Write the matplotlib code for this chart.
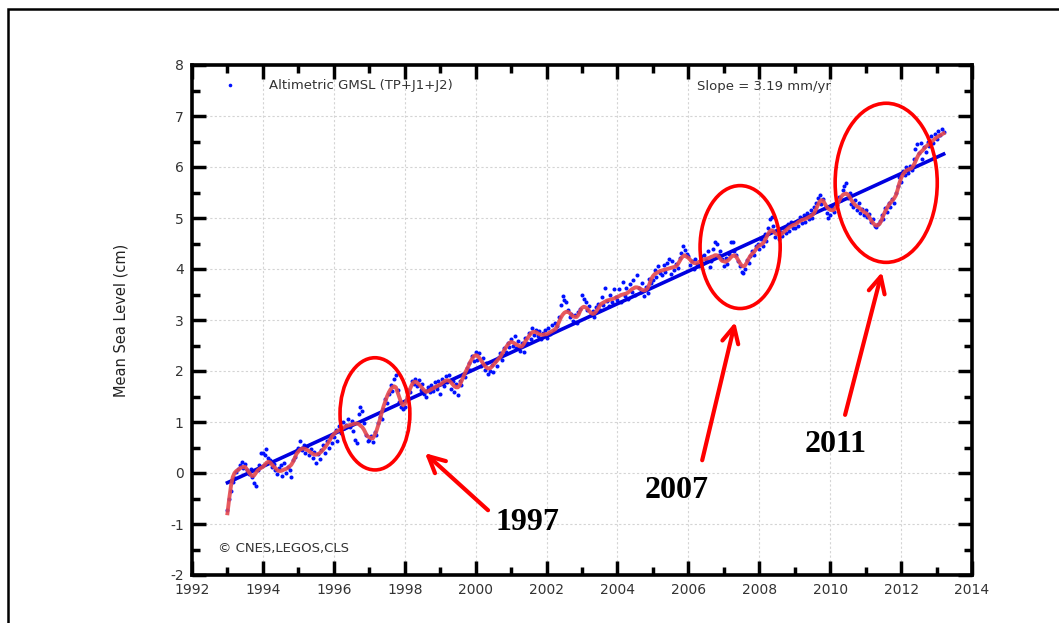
import numpy as np
import matplotlib.pyplot as plt
from matplotlib.patches import Ellipse, Rectangle
from matplotlib.lines import Line2D
from matplotlib.ticker import MultipleLocator

plt.rcParams['axes.unicode_minus'] = False

# 10-day GMSL samples, every 0.05 yr from 1993.0 (cm)
gmsl_dots = [
    -0.72, -0.50, -0.35, -0.18, -0.10, 0.02, 0.08, 0.15, 0.22, 0.10, 0.18, 0.05, -0.02, 0.08, -0.08, -0.20, -0.25, 0.05, 0.15, 0.40,
    0.40, 0.35, 0.48, 0.30, 0.25, 0.12, 0.18, 0.05, -0.02, 0.10, 0.15, -0.05, 0.20, 0.00, 0.12, 0.05, -0.08, 0.25, 0.32, 0.45,
    0.50, 0.62, 0.45, 0.55, 0.40, 0.52, 0.35, 0.48, 0.30, 0.42, 0.20, 0.38, 0.28, 0.45, 0.55, 0.40, 0.62, 0.50, 0.70, 0.58,
    0.70, 0.85, 0.62, 0.92, 0.78, 1.00, 0.88, 0.95, 1.05, 0.90, 1.02, 0.82, 0.65, 0.58, 1.15, 1.30, 1.22, 0.98, 0.75, 0.62,
    0.65, 0.72, 0.60, 0.80, 0.75, 0.98, 1.10, 1.05, 1.25, 1.45, 1.38, 1.55, 1.72, 1.60, 1.85, 1.92, 1.62, 1.40, 1.30, 1.25,
    1.30, 1.45, 1.62, 1.58, 1.80, 1.75, 1.85, 1.70, 1.82, 1.62, 1.75, 1.55, 1.50, 1.68, 1.58, 1.72, 1.60, 1.78, 1.65, 1.80,
    1.55, 1.85, 1.70, 1.90, 1.78, 1.92, 1.65, 1.80, 1.58, 1.75, 1.52, 1.80, 1.72, 1.95, 1.88, 2.05, 2.15, 2.02, 2.30, 2.20,
    2.38, 2.22, 2.35, 2.10, 2.25, 2.02, 2.15, 1.95, 2.00, 2.12, 1.98, 2.20, 2.10, 2.28, 2.35, 2.22, 2.45, 2.38, 2.55, 2.48,
    2.62, 2.50, 2.68, 2.45, 2.58, 2.40, 2.55, 2.38, 2.65, 2.55, 2.75, 2.62, 2.85, 2.70, 2.80, 2.68, 2.78, 2.62, 2.75, 2.80,
    2.65, 2.85, 2.72, 2.90, 2.78, 2.95, 2.88, 3.05, 3.30, 3.48, 3.40, 3.35, 3.20, 3.05, 3.12, 2.98, 3.10, 2.95, 3.15, 3.22,
    3.50, 3.42, 3.35, 3.20, 3.28, 3.10, 3.18, 3.05, 3.25, 3.32, 3.20, 3.45, 3.30, 3.62, 3.38, 3.28, 3.50, 3.35, 3.60, 3.45,
    3.40, 3.60, 3.35, 3.75, 3.48, 3.62, 3.42, 3.70, 3.55, 3.78, 3.50, 3.88, 3.62, 3.55, 3.72, 3.48, 3.65, 3.52, 3.80, 3.72,
    3.78, 3.98, 3.85, 4.05, 3.92, 3.88, 4.08, 3.95, 4.12, 4.20, 3.90, 4.15, 3.98, 4.10, 4.02, 4.22, 4.32, 4.45, 4.38, 4.30,
    4.25, 4.08, 4.15, 4.00, 4.20, 4.10, 4.05, 4.25, 4.12, 4.28, 4.18, 4.35, 4.04, 4.15, 4.40, 4.53, 4.50, 4.28, 4.35, 4.20,
    4.05, 4.22, 4.10, 4.30, 4.53, 4.52, 4.35, 4.28, 4.15, 4.05, 3.95, 3.92, 4.00, 4.18, 4.12, 4.25, 4.35, 4.28, 4.45, 4.50,
    4.40, 4.58, 4.45, 4.68, 4.55, 4.80, 4.98, 5.02, 4.85, 4.62, 4.75, 4.58, 4.72, 4.65, 4.80, 4.70, 4.88, 4.75, 4.92, 4.80,
    4.80, 4.95, 4.85, 5.02, 4.90, 5.05, 4.92, 5.10, 4.98, 5.15, 5.00, 5.22, 5.30, 5.40, 5.45, 5.28, 5.38, 5.20, 5.10, 5.00,
    5.05, 5.22, 5.12, 5.30, 5.25, 5.42, 5.35, 5.55, 5.62, 5.68, 5.40, 5.50, 5.28, 5.22, 5.35, 5.15, 5.30, 5.10, 5.18, 5.05,
    5.15, 5.02, 5.08, 4.92, 4.98, 4.85, 4.82, 4.88, 4.95, 5.05, 4.98, 5.20, 5.12, 5.30, 5.22, 5.38, 5.30, 5.50, 5.62, 5.80,
    5.70, 5.92, 5.85, 6.00, 5.88, 6.02, 5.95, 6.15, 6.35, 6.45, 6.28, 6.48, 6.15, 6.40, 6.30, 6.50, 6.42, 6.60, 6.48, 6.65,
    6.55, 6.70, 6.62, 6.75, 6.68,
]

# smoothed (red) curve on the same time grid (cm)
gmsl_smooth = [
    -0.79, -0.50, -0.25, -0.08, 0.00, 0.04, 0.06, 0.09, 0.11, 0.12, 0.12, 0.07, 0.02, -0.03, -0.06, -0.05, 0.00, 0.05, 0.08, 0.10,
    0.12, 0.16, 0.20, 0.22, 0.21, 0.17, 0.13, 0.10, 0.06, 0.04, 0.04, 0.05, 0.07, 0.08, 0.10, 0.13, 0.16, 0.22, 0.30, 0.38,
    0.42, 0.46, 0.48, 0.48, 0.47, 0.45, 0.43, 0.40, 0.38, 0.36, 0.36, 0.37, 0.39, 0.42, 0.46, 0.50, 0.55, 0.60, 0.66, 0.72,
    0.76, 0.80, 0.82, 0.84, 0.86, 0.88, 0.90, 0.92, 0.93, 0.94, 0.95, 0.96, 0.97, 0.97, 0.96, 0.93, 0.90, 0.85, 0.78, 0.72,
    0.70, 0.68, 0.68, 0.74, 0.82, 0.93, 1.05, 1.18, 1.30, 1.40, 1.50, 1.58, 1.64, 1.68, 1.70, 1.68, 1.58, 1.48, 1.38, 1.33,
    1.35, 1.42, 1.55, 1.65, 1.73, 1.78, 1.79, 1.77, 1.74, 1.70, 1.66, 1.62, 1.59, 1.60, 1.62, 1.64, 1.66, 1.68, 1.70, 1.72,
    1.73, 1.76, 1.79, 1.81, 1.82, 1.81, 1.78, 1.74, 1.70, 1.68, 1.68, 1.72, 1.80, 1.88, 1.96, 2.03, 2.10, 2.18, 2.24, 2.29,
    2.31, 2.30, 2.26, 2.21, 2.16, 2.11, 2.07, 2.05, 2.05, 2.08, 2.12, 2.16, 2.20, 2.24, 2.28, 2.34, 2.40, 2.46, 2.51, 2.55,
    2.57, 2.56, 2.54, 2.52, 2.50, 2.48, 2.48, 2.52, 2.58, 2.63, 2.68, 2.73, 2.76, 2.77, 2.76, 2.74, 2.72, 2.71, 2.71, 2.72,
    2.72, 2.74, 2.76, 2.78, 2.80, 2.82, 2.88, 2.96, 3.04, 3.10, 3.14, 3.16, 3.16, 3.14, 3.10, 3.07, 3.06, 3.06, 3.10, 3.18,
    3.24, 3.26, 3.25, 3.22, 3.18, 3.14, 3.12, 3.13, 3.17, 3.22, 3.28, 3.32, 3.34, 3.36, 3.38, 3.39, 3.40, 3.41, 3.42, 3.44,
    3.45, 3.47, 3.49, 3.50, 3.51, 3.52, 3.54, 3.57, 3.60, 3.62, 3.64, 3.64, 3.63, 3.61, 3.59, 3.58, 3.59, 3.62, 3.70, 3.80,
    3.86, 3.90, 3.92, 3.94, 3.96, 3.97, 3.98, 3.99, 4.00, 4.01, 4.02, 4.03, 4.04, 4.05, 4.09, 4.15, 4.21, 4.25, 4.27, 4.24,
    4.22, 4.18, 4.14, 4.12, 4.11, 4.12, 4.14, 4.16, 4.18, 4.19, 4.20, 4.21, 4.22, 4.24, 4.25, 4.27, 4.27, 4.25, 4.20, 4.16,
    4.15, 4.14, 4.16, 4.19, 4.23, 4.26, 4.27, 4.24, 4.18, 4.12, 4.07, 4.05, 4.07, 4.13, 4.20, 4.26, 4.30, 4.33, 4.38, 4.43,
    4.46, 4.48, 4.50, 4.55, 4.62, 4.69, 4.74, 4.76, 4.74, 4.70, 4.68, 4.67, 4.67, 4.70, 4.73, 4.76, 4.79, 4.82, 4.84, 4.86,
    4.87, 4.89, 4.92, 4.94, 4.96, 4.97, 4.98, 5.00, 5.02, 5.04, 5.06, 5.10, 5.17, 5.25, 5.32, 5.35, 5.34, 5.28, 5.22, 5.18,
    5.16, 5.15, 5.16, 5.20, 5.26, 5.33, 5.40, 5.45, 5.47, 5.48, 5.46, 5.41, 5.35, 5.30, 5.26, 5.23, 5.21, 5.18, 5.15, 5.12,
    5.10, 5.07, 5.02, 4.96, 4.91, 4.87, 4.85, 4.86, 4.89, 4.96, 5.05, 5.13, 5.19, 5.25, 5.30, 5.34, 5.38, 5.44, 5.55, 5.68,
    5.78, 5.85, 5.90, 5.93, 5.95, 5.96, 5.98, 6.03, 6.10, 6.18, 6.25, 6.29, 6.32, 6.36, 6.40, 6.43, 6.46, 6.49, 6.52, 6.55,
    6.58, 6.60, 6.62, 6.64, 6.66,
]

start_year = 1993.0
step_years = 0.05
slope_mm_yr = 3.19
trend_offset_cm = -0.19  # trend value at start_year

# highlighted events
event_labels = ['1997', '2007', '2011']
ellipse_x = [1997.16, 2007.46, 2011.58]
ellipse_y = [1.16, 4.43, 5.69]
ellipse_w = [1.97, 2.26, 2.88]
ellipse_h = [2.20, 2.41, 3.12]
arrow_tail = [(2000.35, -0.73), (2006.39, 0.25), (2010.42, 1.14)]
arrow_head = [(1998.57, 0.39), (2007.32, 2.96), (2011.46, 3.94)]
label_pos = [(2001.45, -0.98), (2005.68, -0.35), (2010.14, 0.55)]

t = start_year + step_years * np.arange(len(gmsl_dots))
trend = trend_offset_cm + slope_mm_yr / 10.0 * (t - start_year)

fig = plt.figure(figsize=(10.59, 6.23), dpi=100)
ax = fig.add_axes([192 / 1059, 48 / 623, 780 / 1059, 510 / 623])

# outer frame of the slide
fig.patches.append(Rectangle((8 / 1059, -0.2), 1.2, 0.2 + 1 - 9 / 623, transform=fig.transFigure,
                             fill=False, lw=1.8, ec='black'))

ax.plot(t, gmsl_dots, 'o', color='#0010ff', ms=2.9, mec='none', zorder=2)
ax.plot(t, trend, color='#0000e0', lw=2.6, zorder=3)
ax.plot(t, gmsl_smooth, color='#e5484c', lw=2.8, alpha=0.9, zorder=4)

for i, lab in enumerate(event_labels):
    ax.add_patch(Ellipse((ellipse_x[i], ellipse_y[i]), ellipse_w[i], ellipse_h[i],
                         fill=False, ec='#ff0000', lw=2.6, zorder=5))
    ax.annotate('', xy=arrow_head[i], xytext=arrow_tail[i],
                arrowprops=dict(arrowstyle='->,head_length=0.9,head_width=0.45', color='#ff0000',
                                lw=3, shrinkA=0, shrinkB=0, mutation_scale=13), zorder=5)
    ax.text(label_pos[i][0], label_pos[i][1], lab, fontsize=23, fontweight='bold',
            family='Liberation Serif', ha='center', va='center', zorder=6)

ax.set_xlim(1992, 2014)
ax.set_ylim(-2, 8)
ax.xaxis.set_major_locator(MultipleLocator(2))
ax.xaxis.set_minor_locator(MultipleLocator(1))
ax.yaxis.set_major_locator(MultipleLocator(1))
ax.yaxis.set_minor_locator(MultipleLocator(0.5))
ax.grid(True, which='major', color='#d4d4d4', linestyle=(0, (2, 2)), lw=0.8)
ax.tick_params(which='both', direction='in', top=True, right=True, width=2.5,
               labelsize=10, labelcolor='#333333', pad=6)
ax.tick_params(which='major', length=10)
ax.tick_params(which='minor', length=6)
for s in ax.spines.values():
    s.set_linewidth(2.6)

ax.set_ylabel('Mean Sea Level (cm)', fontsize=10.5, color='#222222', labelpad=30)

legend_handle = Line2D([], [], ls='none', marker='o', color='#0010ff', ms=2.6, mec='none')
ax.legend([legend_handle], ['Altimetric GMSL (TP+J1+J2)'], loc='upper left',
          bbox_to_anchor=(0.04, 0.972), frameon=False, fontsize=9.5, handlelength=1,
          handletextpad=2.5, borderpad=0, borderaxespad=0, labelcolor='#333333')
ax.text(0.647, 0.957, 'Slope = 3.19 mm/yr', transform=ax.transAxes, fontsize=9.5,
        color='#333333', va='center')
ax.text(0.033, 0.051, '\u00a9 CNES,LEGOS,CLS', transform=ax.transAxes, fontsize=9.5,
        color='#333333', va='center')

fig.savefig('out.png', dpi=100)
